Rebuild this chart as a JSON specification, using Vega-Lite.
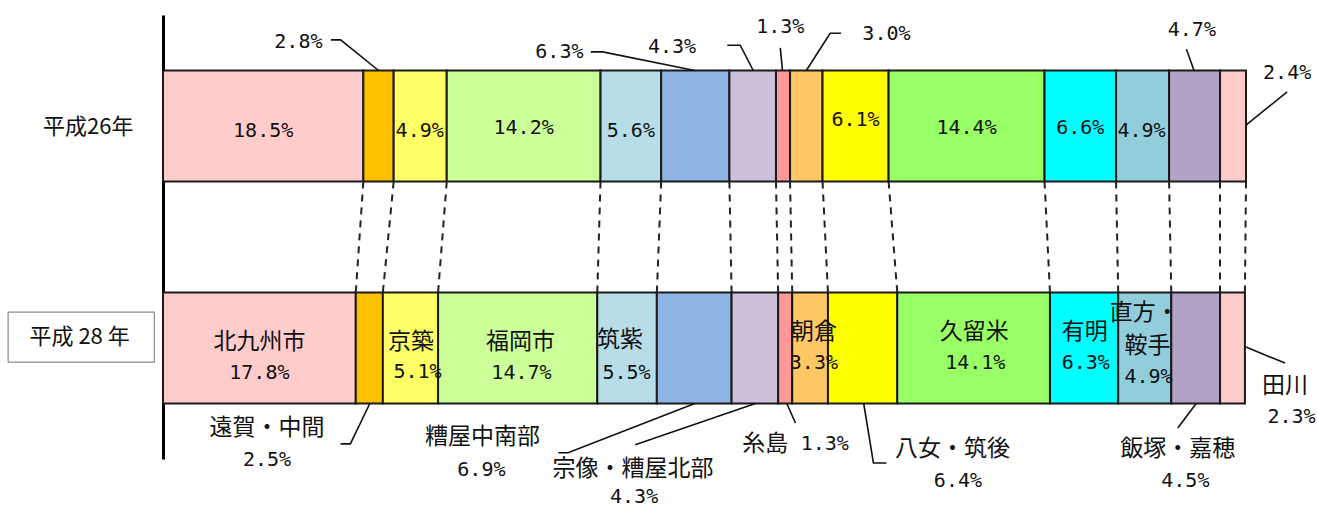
{
  "$schema": "https://vega.github.io/schema/vega-lite/v6.json",
  "width": 1083,
  "height": 444,
  "autosize": {"type": "none"},
  "padding": {"left": 163, "top": 15, "right": 71, "bottom": 51},
  "background": "#ffffff",
  "config": {"view": {"stroke": null}},
  "datasets": {
    "shares": [
      {"year": "H26", "order": 1, "region": "北九州市", "value": 18.5},
      {"year": "H26", "order": 2, "region": "遠賀・中間", "value": 2.8},
      {"year": "H26", "order": 3, "region": "京築", "value": 4.9},
      {"year": "H26", "order": 4, "region": "福岡市", "value": 14.2},
      {"year": "H26", "order": 5, "region": "筑紫", "value": 5.6},
      {"year": "H26", "order": 6, "region": "糟屋中南部", "value": 6.3},
      {"year": "H26", "order": 7, "region": "宗像・糟屋北部", "value": 4.3},
      {"year": "H26", "order": 8, "region": "糸島", "value": 1.3},
      {"year": "H26", "order": 9, "region": "朝倉", "value": 3.0},
      {"year": "H26", "order": 10, "region": "八女・筑後", "value": 6.1},
      {"year": "H26", "order": 11, "region": "久留米", "value": 14.4},
      {"year": "H26", "order": 12, "region": "有明", "value": 6.6},
      {"year": "H26", "order": 13, "region": "直方・鞍手", "value": 4.9},
      {"year": "H26", "order": 14, "region": "飯塚・嘉穂", "value": 4.7},
      {"year": "H26", "order": 15, "region": "田川", "value": 2.4},
      {"year": "H28", "order": 1, "region": "北九州市", "value": 17.8},
      {"year": "H28", "order": 2, "region": "遠賀・中間", "value": 2.5},
      {"year": "H28", "order": 3, "region": "京築", "value": 5.1},
      {"year": "H28", "order": 4, "region": "福岡市", "value": 14.7},
      {"year": "H28", "order": 5, "region": "筑紫", "value": 5.5},
      {"year": "H28", "order": 6, "region": "糟屋中南部", "value": 6.9},
      {"year": "H28", "order": 7, "region": "宗像・糟屋北部", "value": 4.3},
      {"year": "H28", "order": 8, "region": "糸島", "value": 1.3},
      {"year": "H28", "order": 9, "region": "朝倉", "value": 3.3},
      {"year": "H28", "order": 10, "region": "八女・筑後", "value": 6.4},
      {"year": "H28", "order": 11, "region": "久留米", "value": 14.1},
      {"year": "H28", "order": 12, "region": "有明", "value": 6.3},
      {"year": "H28", "order": 13, "region": "直方・鞍手", "value": 4.9},
      {"year": "H28", "order": 14, "region": "飯塚・嘉穂", "value": 4.5},
      {"year": "H28", "order": 15, "region": "田川", "value": 2.3}
    ],
    "labels": [
      {"text": "18.5%", "kind": "value", "x": 9.25, "y": 26.1},
      {"text": "4.9%", "kind": "value", "x": 23.7, "y": 26.1},
      {"text": "14.2%", "kind": "value", "x": 33.3, "y": 25.5},
      {"text": "5.6%", "kind": "value", "x": 43.2, "y": 26.1},
      {"text": "6.1%", "kind": "value", "x": 63.95, "y": 23.6},
      {"text": "14.4%", "kind": "value", "x": 74.2, "y": 25.5},
      {"text": "6.6%", "kind": "value", "x": 84.7, "y": 25.5},
      {"text": "4.9%", "kind": "value", "x": 90.35, "y": 26.1},
      {"text": "2.8%", "kind": "value", "x": 12.5, "y": 6.1},
      {"text": "6.3%", "kind": "value", "x": 36.6, "y": 8.3},
      {"text": "4.3%", "kind": "value", "x": 47.0, "y": 7.2},
      {"text": "1.3%", "kind": "value", "x": 57.0, "y": 2.7},
      {"text": "3.0%", "kind": "value", "x": 66.8, "y": 4.3},
      {"text": "4.7%", "kind": "value", "x": 95.0, "y": 3.4},
      {"text": "2.4%", "kind": "value", "x": 103.8, "y": 13.1},
      {"text": "北九州市", "kind": "name", "x": 8.9, "y": 73.6},
      {"text": "17.8%", "kind": "value", "x": 8.9, "y": 80.6},
      {"text": "京築", "kind": "name", "x": 22.9, "y": 73.6},
      {"text": "5.1%", "kind": "value", "x": 23.5, "y": 80.4},
      {"text": "福岡市", "kind": "name", "x": 33.0, "y": 73.6},
      {"text": "14.7%", "kind": "value", "x": 33.1, "y": 80.6},
      {"text": "筑紫", "kind": "name", "x": 42.2, "y": 73.2},
      {"text": "5.5%", "kind": "value", "x": 42.8, "y": 80.6},
      {"text": "朝倉", "kind": "name", "x": 60.1, "y": 71.4},
      {"text": "3.3%", "kind": "value", "x": 60.1, "y": 78.4},
      {"text": "久留米", "kind": "name", "x": 74.9, "y": 71.4},
      {"text": "14.1%", "kind": "value", "x": 75.0, "y": 78.4},
      {"text": "有明", "kind": "name", "x": 85.1, "y": 71.4},
      {"text": "6.3%", "kind": "value", "x": 85.2, "y": 78.4},
      {"text": "直方・", "kind": "name", "x": 90.6, "y": 67.1},
      {"text": "鞍手", "kind": "name", "x": 90.9, "y": 74.5},
      {"text": "4.9%", "kind": "value", "x": 91.0, "y": 81.5},
      {"text": "遠賀・中間", "kind": "name", "x": 9.6, "y": 93.0},
      {"text": "2.5%", "kind": "value", "x": 9.6, "y": 100.2},
      {"text": "糟屋中南部", "kind": "name", "x": 29.5, "y": 95.0},
      {"text": "6.9%", "kind": "value", "x": 29.4, "y": 102.5},
      {"text": "宗像・糟屋北部", "kind": "name", "x": 43.4, "y": 102.3},
      {"text": "4.3%", "kind": "value", "x": 43.5, "y": 108.6},
      {"text": "糸島", "kind": "name", "x": 55.6, "y": 96.6},
      {"text": "1.3%", "kind": "value", "x": 61.1, "y": 96.6},
      {"text": "八女・筑後", "kind": "name", "x": 72.9, "y": 97.7},
      {"text": "6.4%", "kind": "value", "x": 73.4, "y": 105.0},
      {"text": "飯塚・嘉穂", "kind": "name", "x": 93.7, "y": 97.7},
      {"text": "4.5%", "kind": "value", "x": 94.4, "y": 105.0},
      {"text": "田川", "kind": "name", "x": 103.6, "y": 83.6},
      {"text": "2.3%", "kind": "value", "x": 104.2, "y": 90.5},
      {"text": "平成26年", "kind": "year", "x": -6.9, "y": 25.2},
      {"text": "平成 28 年", "kind": "year", "x": -7.7, "y": 72.5}
    ],
    "leaders": [
      {"id": "t1", "seq": 1, "x": 15.5, "y": 5.6},
      {"id": "t1", "seq": 2, "x": 16.4, "y": 5.6},
      {"id": "t1", "seq": 3, "x": 19.9, "y": 12.5},
      {"id": "t2", "seq": 1, "x": 39.5, "y": 8.3},
      {"id": "t2", "seq": 2, "x": 40.6, "y": 8.3},
      {"id": "t2", "seq": 3, "x": 49.1, "y": 12.5},
      {"id": "t3", "seq": 1, "x": 52.1, "y": 6.8},
      {"id": "t3", "seq": 2, "x": 53.3, "y": 6.8},
      {"id": "t3", "seq": 3, "x": 54.5, "y": 12.5},
      {"id": "t4", "seq": 1, "x": 57.0, "y": 7.4},
      {"id": "t4", "seq": 2, "x": 57.2, "y": 12.5},
      {"id": "t5", "seq": 1, "x": 62.6, "y": 4.1},
      {"id": "t5", "seq": 2, "x": 61.6, "y": 4.1},
      {"id": "t5", "seq": 3, "x": 59.4, "y": 12.5},
      {"id": "t6", "seq": 1, "x": 94.5, "y": 7.7},
      {"id": "t6", "seq": 2, "x": 95.2, "y": 12.5},
      {"id": "t7", "seq": 1, "x": 103.8, "y": 17.3},
      {"id": "t7", "seq": 2, "x": 100.0, "y": 24.8},
      {"id": "b1", "seq": 1, "x": 16.4, "y": 96.6},
      {"id": "b1", "seq": 2, "x": 17.3, "y": 96.6},
      {"id": "b1", "seq": 3, "x": 19.1, "y": 87.5},
      {"id": "b2", "seq": 1, "x": 36.5, "y": 98.6},
      {"id": "b2", "seq": 2, "x": 37.4, "y": 98.6},
      {"id": "b2", "seq": 3, "x": 49.1, "y": 87.5},
      {"id": "b3", "seq": 1, "x": 43.6, "y": 96.8},
      {"id": "b3", "seq": 2, "x": 54.7, "y": 87.5},
      {"id": "b4", "seq": 1, "x": 58.4, "y": 91.9},
      {"id": "b4", "seq": 2, "x": 57.6, "y": 87.5},
      {"id": "b5", "seq": 1, "x": 64.7, "y": 87.5},
      {"id": "b5", "seq": 2, "x": 65.6, "y": 100.9},
      {"id": "b5", "seq": 3, "x": 66.8, "y": 100.9},
      {"id": "b6", "seq": 1, "x": 93.7, "y": 93.0},
      {"id": "b6", "seq": 2, "x": 95.4, "y": 87.5},
      {"id": "b7", "seq": 1, "x": 103.6, "y": 78.4},
      {"id": "b7", "seq": 2, "x": 100.0, "y": 74.8}
    ],
    "box": [
      {"x": -14.3, "x2": -0.8, "y": 66.9, "y2": 78.2}
    ]
  },
  "layer": [
    {
      "data": {"name": "shares"},
      "transform": [
        {"stack": "value", "groupby": ["year"], "sort": [{"field": "order"}], "as": ["x0", "x1"]}
      ],
      "mark": {"type": "rect", "stroke": "#1a1a1a", "strokeWidth": 2},
      "encoding": {
        "x": {"field": "x0", "type": "quantitative", "scale": {"domain": [0, 100], "nice": false, "zero": false}, "axis": null},
        "x2": {"field": "x1"},
        "y": {"field": "year", "type": "nominal", "scale": {"domain": ["H26", "H28"], "paddingInner": 0.5, "paddingOuter": 0.25}, "axis": null},
        "color": {
          "field": "region",
          "type": "nominal",
          "scale": {
            "domain": ["北九州市", "遠賀・中間", "京築", "福岡市", "筑紫", "糟屋中南部", "宗像・糟屋北部", "糸島", "朝倉", "八女・筑後", "久留米", "有明", "直方・鞍手", "飯塚・嘉穂", "田川"],
            "range": ["#FFCCCC", "#FFC000", "#FFFF66", "#CCFF99", "#B7DEE8", "#8DB4E2", "#CCC0DA", "#FF9999", "#FFC864", "#FFFF00", "#99FF66", "#00FFFF", "#92CDDC", "#B3A2C7", "#FFCCCC"]
          },
          "legend": null
        }
      }
    },
    {
      "data": {"name": "shares"},
      "transform": [
        {"stack": "value", "groupby": ["year"], "sort": [{"field": "order"}], "as": ["x0", "x1"]},
        {"pivot": "year", "value": "x1", "groupby": ["order"]}
      ],
      "mark": {"type": "rule", "stroke": "#222222", "strokeWidth": 2, "strokeDash": [7, 6]},
      "encoding": {
        "x": {"field": "H26", "type": "quantitative", "scale": {"domain": [0, 100], "nice": false, "zero": false}, "axis": null},
        "x2": {"field": "H28"},
        "y": {"datum": 37.5, "type": "quantitative", "scale": {"domain": [0, 100], "reverse": true, "nice": false, "zero": false}, "axis": null},
        "y2": {"datum": 62.5}
      }
    },
    {
      "data": {"name": "leaders"},
      "mark": {"type": "line", "stroke": "#111111", "strokeWidth": 1.6},
      "encoding": {
        "x": {"field": "x", "type": "quantitative", "scale": {"domain": [0, 100], "nice": false, "zero": false}, "axis": null},
        "y": {"field": "y", "type": "quantitative", "scale": {"domain": [0, 100], "reverse": true, "nice": false, "zero": false},
              "axis": {"domain": true, "domainColor": "#000000", "domainWidth": 3, "ticks": false, "labels": false, "grid": false, "title": null}},
        "detail": {"field": "id"},
        "order": {"field": "seq"}
      }
    },
    {
      "data": {"name": "box"},
      "mark": {"type": "rect", "fill": "#ffffff", "stroke": "#8c8c8c", "strokeWidth": 1.2},
      "encoding": {
        "x": {"field": "x", "type": "quantitative", "scale": {"domain": [0, 100], "nice": false, "zero": false}, "axis": null},
        "x2": {"field": "x2"},
        "y": {"field": "y", "type": "quantitative", "scale": {"domain": [0, 100], "reverse": true, "nice": false, "zero": false}, "axis": null},
        "y2": {"field": "y2"}
      }
    },
    {
      "data": {"name": "labels"},
      "transform": [{"filter": "datum.kind === 'name'"}],
      "mark": {"type": "text", "font": "Noto Sans CJK JP", "fontSize": 23, "align": "center", "baseline": "middle", "color": "#111111"},
      "encoding": {
        "x": {"field": "x", "type": "quantitative", "scale": {"domain": [0, 100], "nice": false, "zero": false}, "axis": null},
        "y": {"field": "y", "type": "quantitative", "scale": {"domain": [0, 100], "reverse": true, "nice": false, "zero": false}, "axis": null},
        "text": {"field": "text"}
      }
    },
    {
      "data": {"name": "labels"},
      "transform": [{"filter": "datum.kind === 'year'"}],
      "mark": {"type": "text", "font": "Noto Sans CJK JP", "fontSize": 22, "align": "center", "baseline": "middle", "color": "#111111"},
      "encoding": {
        "x": {"field": "x", "type": "quantitative", "scale": {"domain": [0, 100], "nice": false, "zero": false}, "axis": null},
        "y": {"field": "y", "type": "quantitative", "scale": {"domain": [0, 100], "reverse": true, "nice": false, "zero": false}, "axis": null},
        "text": {"field": "text"}
      }
    },
    {
      "data": {"name": "labels"},
      "transform": [{"filter": "datum.kind === 'value'"}],
      "mark": {"type": "text", "font": "DejaVu Sans Mono", "fontSize": 20, "align": "center", "baseline": "middle", "color": "#111111"},
      "encoding": {
        "x": {"field": "x", "type": "quantitative", "scale": {"domain": [0, 100], "nice": false, "zero": false}, "axis": null},
        "y": {"field": "y", "type": "quantitative", "scale": {"domain": [0, 100], "reverse": true, "nice": false, "zero": false}, "axis": null},
        "text": {"field": "text"}
      }
    }
  ],
  "resolve": {"scale": {"y": "independent"}}
}
